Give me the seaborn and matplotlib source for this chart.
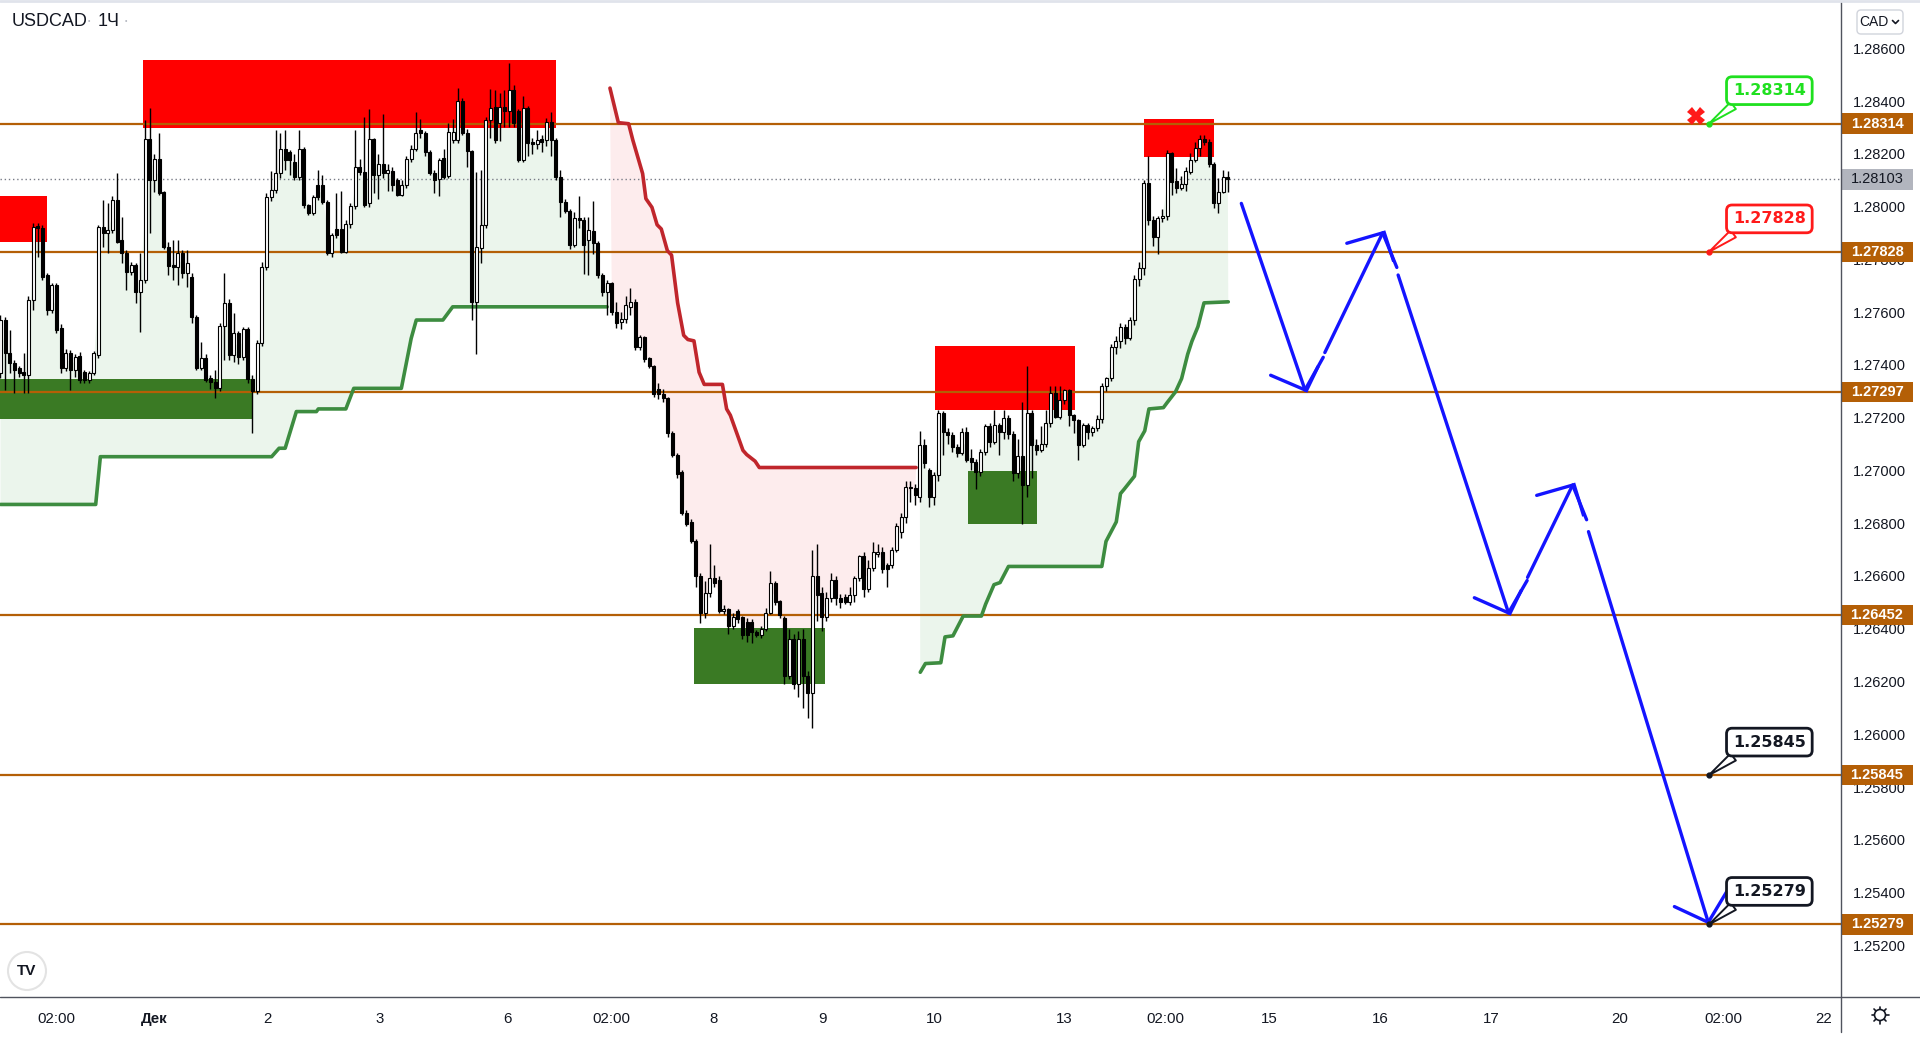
import numpy as np
import matplotlib
matplotlib.use("Agg")
import matplotlib.pyplot as plt
import seaborn as sns
import matplotlib.transforms as mtransforms
from matplotlib.patches import Rectangle, Circle, FancyBboxPatch
from matplotlib.lines import Line2D

# ---------------- data (hourly candles USDCAD) ----------------
opens = [
 1.27368,1.27570,1.27444,1.27406,1.27387,1.27374,1.27362,1.27646,1.27926,1.27917,1.27741,1.27608,
 1.27703,1.27538,1.27387,1.27446,1.27381,1.27434,1.27374,1.27343,1.27368,1.27437,1.27924,1.27901,
 1.27911,1.28025,1.27873,1.27823,1.27751,1.27778,1.27677,1.27722,1.28256,1.28100,1.28180,1.28056,
 1.27848,1.27778,1.27772,1.27823,1.27747,1.27734,1.27583,1.27387,1.27425,1.27349,1.27336,1.27311,
 1.27547,1.27633,1.27437,1.27520,1.27431,1.27535,1.27345,1.27300,1.27484,1.27772,1.28037,1.28063,
 1.28126,1.28220,1.28208,1.28170,1.28113,1.28220,1.28006,1.27974,1.28082,1.28082,1.28018,1.27823,
 1.27914,1.27914,1.27829,1.27933,1.28002,1.28151,1.28132,1.28012,1.28255,1.28119,1.28160,1.28126,
 1.28136,1.28100,1.28044,1.28082,1.28180,1.28218,1.28290,1.28277,1.28208,1.28128,1.28103,1.28183,
 1.28116,1.28252,1.28252,1.28400,1.28280,1.28210,1.27640,1.27842,1.27930,1.28328,1.28378,1.28315,
 1.28378,1.28362,1.28442,1.28362,1.28176,1.28372,1.28246,1.28239,1.28255,1.28252,1.28322,1.28252,
 1.28113,1.28016,1.27983,1.27854,1.27955,1.27949,1.27873,1.27909,1.27861,1.27741,1.27677,1.27709,
 1.27602,1.27561,1.27575,1.27620,1.27640,1.27468,1.27504,1.27425,1.27397,1.27307,1.27290,1.27274,
 1.27142,1.27060,1.26994,1.26838,1.26805,1.26731,1.26600,1.26460,1.26534,1.26591,1.26583,1.26468,
 1.26476,1.26411,1.26468,1.26443,1.26427,1.26427,1.26386,1.26378,1.26399,1.26460,1.26575,1.26504,
 1.26440,1.26222,1.26361,1.26189,1.26361,1.26222,1.26156,1.26600,1.26534,1.26443,1.26517,1.26583,
 1.26517,1.26522,1.26501,1.26526,1.26591,1.26674,1.26550,1.26632,1.26682,1.26690,1.26641,1.26641,
 1.26699,1.26768,1.26825,1.26939,1.26932,1.26901,1.27097,1.27002,1.26901,1.26983,1.27216,1.27147,
 1.27134,1.27090,1.27065,1.27147,1.27046,1.27033,1.26995,1.27071,1.27169,1.27109,1.27172,1.27147,
 1.27198,1.27137,1.26989,1.27055,1.26945,1.27216,1.27097,1.27078,1.27100,1.27179,1.27292,1.27204,
 1.27267,1.27305,1.27210,1.27191,1.27097,1.27172,1.27147,1.27160,1.27194,1.27320,1.27349,1.27467,
 1.27492,1.27542,1.27501,1.27570,1.27724,1.27766,1.28088,1.27949,1.27886,1.27955,1.27964,1.28202,
 1.28097,1.28069,1.28086,1.28132,1.28177,1.28223,1.28255,1.28246,1.28160,1.28015,1.28057,1.28111]
highs = [
 1.27590,1.27583,1.27532,1.27420,1.27395,1.27444,1.27660,1.27936,1.27936,1.27930,1.27747,1.27710,
 1.27709,1.27555,1.27460,1.27455,1.27440,1.27450,1.27380,1.27378,1.27452,1.27930,1.28025,1.28012,
 1.28040,1.28126,1.27962,1.27835,1.27790,1.27785,1.27823,1.28328,1.28372,1.28200,1.28277,1.28060,
 1.27867,1.27873,1.27873,1.27835,1.27835,1.27747,1.27590,1.27488,1.27440,1.27360,1.27381,1.27560,
 1.27747,1.27650,1.27595,1.27530,1.27545,1.27545,1.27362,1.27495,1.27790,1.28050,1.28136,1.28290,
 1.28280,1.28290,1.28215,1.28200,1.28290,1.28225,1.28010,1.28045,1.28140,1.28120,1.28025,1.27900,
 1.28050,1.28060,1.27950,1.28015,1.28290,1.28180,1.28340,1.28370,1.28260,1.28200,1.28350,1.28160,
 1.28150,1.28110,1.28100,1.28190,1.28235,1.28360,1.28330,1.28285,1.28215,1.28140,1.28185,1.28220,
 1.28315,1.28330,1.28450,1.28410,1.28295,1.28215,1.28130,1.28140,1.28340,1.28445,1.28440,1.28430,
 1.28440,1.28545,1.28460,1.28370,1.28420,1.28380,1.28260,1.28290,1.28270,1.28335,1.28360,1.28260,
 1.28140,1.28030,1.27990,1.27980,1.28040,1.27960,1.27960,1.28020,1.27870,1.27750,1.27720,1.27715,
 1.27640,1.27600,1.27660,1.27690,1.27650,1.27515,1.27510,1.27430,1.27400,1.27330,1.27310,1.27280,
 1.27150,1.27066,1.27000,1.26850,1.26815,1.26740,1.26610,1.26580,1.26720,1.26640,1.26600,1.26490,
 1.26480,1.26460,1.26475,1.26450,1.26440,1.26435,1.26395,1.26410,1.26480,1.26620,1.26580,1.26510,
 1.26450,1.26400,1.26380,1.26390,1.26400,1.26240,1.26700,1.26720,1.26560,1.26540,1.26610,1.26600,
 1.26530,1.26530,1.26560,1.26600,1.26680,1.26690,1.26660,1.26730,1.26720,1.26710,1.26650,1.26710,
 1.26800,1.26840,1.26960,1.26960,1.26950,1.27150,1.27120,1.27010,1.26995,1.27230,1.27225,1.27160,
 1.27145,1.27100,1.27160,1.27165,1.27080,1.27045,1.27080,1.27175,1.27180,1.27230,1.27180,1.27230,
 1.27210,1.27150,1.27120,1.27260,1.27397,1.27230,1.27120,1.27170,1.27230,1.27320,1.27320,1.27320,
 1.27310,1.27310,1.27215,1.27195,1.27180,1.27180,1.27170,1.27210,1.27330,1.27355,1.27480,1.27510,
 1.27560,1.27555,1.27580,1.27740,1.27790,1.28100,1.28190,1.27965,1.27965,1.27990,1.28215,1.28206,
 1.28145,1.28115,1.28150,1.28202,1.28245,1.28272,1.28270,1.28255,1.28170,1.28110,1.28140,1.28135]
lows = [
 1.27350,1.27305,1.27368,1.27292,1.27355,1.27292,1.27292,1.27608,1.27810,1.27722,1.27590,1.27595,
 1.27520,1.27370,1.27375,1.27305,1.27355,1.27330,1.27330,1.27330,1.27360,1.27425,1.27848,1.27823,
 1.27900,1.27861,1.27785,1.27684,1.27740,1.27633,1.27525,1.27710,1.27901,1.28056,1.28044,1.27840,
 1.27740,1.27722,1.27703,1.27728,1.27696,1.27560,1.27380,1.27381,1.27336,1.27310,1.27273,1.27300,
 1.27418,1.27420,1.27412,1.27405,1.27420,1.27330,1.27141,1.27290,1.27470,1.27760,1.28020,1.28050,
 1.28110,1.28140,1.28120,1.28100,1.28100,1.27995,1.27968,1.27968,1.28025,1.28010,1.27815,1.27810,
 1.27880,1.27823,1.27823,1.27920,1.27990,1.28120,1.28000,1.28000,1.28050,1.28030,1.28110,1.28060,
 1.28060,1.28040,1.28040,1.28070,1.28170,1.28210,1.28260,1.28190,1.28120,1.28050,1.28040,1.28105,
 1.28110,1.28240,1.28240,1.28270,1.28150,1.27570,1.27440,1.27785,1.27920,1.28260,1.28240,1.28250,
 1.28300,1.28300,1.28300,1.28170,1.28170,1.28190,1.28200,1.28220,1.28205,1.28230,1.28190,1.28100,
 1.27960,1.27975,1.27840,1.27845,1.27920,1.27745,1.27740,1.27820,1.27730,1.27660,1.27590,1.27590,
 1.27540,1.27537,1.27560,1.27590,1.27455,1.27455,1.27410,1.27390,1.27280,1.27270,1.27260,1.27125,
 1.27050,1.26970,1.26830,1.26790,1.26725,1.26560,1.26420,1.26440,1.26520,1.26560,1.26460,1.26455,
 1.26380,1.26400,1.26420,1.26360,1.26350,1.26345,1.26370,1.26365,1.26390,1.26455,1.26490,1.26440,
 1.26190,1.26210,1.26170,1.26140,1.26100,1.26060,1.26024,1.26430,1.26390,1.26430,1.26500,1.26490,
 1.26480,1.26495,1.26490,1.26500,1.26580,1.26520,1.26540,1.26620,1.26670,1.26610,1.26560,1.26630,
 1.26690,1.26745,1.26800,1.26880,1.26870,1.26880,1.27010,1.26860,1.26870,1.26960,1.27060,1.27100,
 1.27070,1.27050,1.27060,1.27030,1.27000,1.26930,1.26980,1.27060,1.27090,1.27100,1.27060,1.27120,
 1.27120,1.26960,1.26970,1.26797,1.26900,1.26970,1.27060,1.27070,1.27090,1.27165,1.27200,1.27195,
 1.27250,1.27170,1.27140,1.27040,1.27090,1.27120,1.27130,1.27150,1.27180,1.27300,1.27340,1.27440,
 1.27465,1.27480,1.27495,1.27550,1.27700,1.27740,1.27930,1.27850,1.27820,1.27940,1.27950,1.28044,
 1.28052,1.28062,1.28060,1.28125,1.28170,1.28190,1.28235,1.28150,1.27995,1.27975,1.28050,1.28055]
closes = [
 1.27570,1.27444,1.27406,1.27381,1.27368,1.27362,1.27646,1.27924,1.27917,1.27734,1.27608,1.27703,
 1.27532,1.27387,1.27444,1.27381,1.27431,1.27343,1.27343,1.27368,1.27444,1.27924,1.27901,1.27911,
 1.28025,1.27867,1.27823,1.27751,1.27778,1.27677,1.27722,1.28256,1.28100,1.28180,1.28050,1.27848,
 1.27775,1.27772,1.27823,1.27749,1.27785,1.27583,1.27387,1.27425,1.27343,1.27336,1.27311,1.27547,
 1.27633,1.27437,1.27520,1.27431,1.27535,1.27345,1.27300,1.27484,1.27772,1.28037,1.28063,1.28126,
 1.28220,1.28176,1.28176,1.28113,1.28220,1.28006,1.27974,1.28037,1.28037,1.28018,1.27823,1.27892,
 1.27892,1.27829,1.27933,1.28002,1.28151,1.28132,1.28006,1.28255,1.28119,1.28160,1.28126,1.28138,
 1.28082,1.28044,1.28082,1.28180,1.28218,1.28277,1.28277,1.28208,1.28128,1.28100,1.28178,1.28113,
 1.28284,1.28284,1.28400,1.28280,1.28210,1.27640,1.27848,1.27930,1.28328,1.28372,1.28252,1.28378,
 1.28362,1.28442,1.28315,1.28176,1.28372,1.28242,1.28239,1.28252,1.28246,1.28322,1.28252,1.28113,
 1.28016,1.27983,1.27854,1.27955,1.27949,1.27854,1.27911,1.27861,1.27741,1.27677,1.27709,1.27602,
 1.27557,1.27575,1.27627,1.27640,1.27468,1.27504,1.27422,1.27397,1.27290,1.27290,1.27274,1.27142,
 1.27060,1.26986,1.26838,1.26797,1.26731,1.26600,1.26460,1.26534,1.26591,1.26575,1.26468,1.26476,
 1.26411,1.26443,1.26435,1.26378,1.26378,1.26386,1.26378,1.26399,1.26460,1.26575,1.26501,1.26452,
 1.26222,1.26361,1.26189,1.26361,1.26222,1.26156,1.26600,1.26526,1.26443,1.26517,1.26583,1.26517,
 1.26501,1.26501,1.26526,1.26591,1.26674,1.26550,1.26632,1.26690,1.26690,1.26625,1.26625,1.26699,
 1.26789,1.26825,1.26939,1.26932,1.26907,1.27097,1.27027,1.26901,1.26983,1.27216,1.27145,1.27134,
 1.27090,1.27065,1.27147,1.27040,1.27033,1.26995,1.27071,1.27169,1.27109,1.27172,1.27147,1.27198,
 1.27137,1.26989,1.27055,1.26945,1.27216,1.27097,1.27078,1.27100,1.27179,1.27292,1.27204,1.27267,
 1.27305,1.27210,1.27191,1.27097,1.27172,1.27147,1.27160,1.27194,1.27320,1.27349,1.27467,1.27492,
 1.27542,1.27501,1.27570,1.27724,1.27766,1.28088,1.27949,1.27886,1.27955,1.27964,1.28202,1.28094,
 1.28069,1.28086,1.28135,1.28177,1.28223,1.28255,1.28246,1.28160,1.28015,1.28057,1.28111,1.28103]

# trailing-stop (supertrend) lines: vertices (bar, price)
green_stop1_x = [0, 20.4, 21.4, 58.1, 59.7, 61.0, 63.4, 67.7, 68.1, 74.0, 75.7, 85.9, 88.0, 89.1, 94.8, 96.9, 130.0]
green_stop1_y = [1.26871, 1.26871, 1.27052, 1.27052, 1.27084, 1.27084, 1.27223, 1.27223, 1.27233, 1.27233,
                 1.27311, 1.27311, 1.27500, 1.27570, 1.27570, 1.27620, 1.27620]
red_stop_x = [130.6, 132.4, 134.6, 135.5, 137.6, 138.3, 139.6, 140.7, 141.6, 142.9, 143.8, 145.1, 146.4,
              147.3, 148.6, 149.7, 150.8, 154.7, 155.6, 156.4, 159.1, 159.9, 161.7, 162.6, 196.2]
red_stop_y = [1.28449, 1.28318, 1.28314, 1.28252, 1.28125, 1.28030, 1.27997, 1.27931, 1.27915, 1.27833,
              1.27816, 1.27635, 1.27512, 1.27496, 1.27491, 1.27372, 1.27326, 1.27326, 1.27233, 1.27209,
              1.27076, 1.27060, 1.27035, 1.27011, 1.27011]
green_stop2_x = [197.1, 198.2, 201.5, 202.4, 204.1, 206.3, 210.2, 211.1, 212.9, 214.2, 216.0, 236.0, 236.9,
                 239.1, 240.0, 240.8, 243.0, 243.9, 245.2, 246.1, 249.2, 250.0, 251.8, 253.1, 254.4, 255.3,
                 256.6, 257.9, 263.1]
green_stop2_y = [1.26235, 1.26268, 1.26271, 1.26369, 1.26373, 1.26448, 1.26448, 1.26493, 1.26567, 1.26575,
                 1.26636, 1.26636, 1.26731, 1.26805, 1.26912, 1.26929, 1.26978, 1.27109, 1.27150, 1.27233,
                 1.27238, 1.27257, 1.27298, 1.27348, 1.27440, 1.27489, 1.27545, 1.27635, 1.27639]

# supply / demand zones: (bar_start, bar_end, price_low, price_high, kind)
zone_x0 = [-0.5, 30.5, -0.5, 148.6, 200.2, 207.4, 245.0]
zone_x1 = [10.0, 119.0, 54.2, 176.6, 230.2, 222.2, 260.0]
zone_lo = [1.27867, 1.28299, 1.27194, 1.26192, 1.27228, 1.26795, 1.28188]
zone_hi = [1.28040, 1.28555, 1.27345, 1.26402, 1.27473, 1.26998, 1.28332]
zone_kind = ["supply", "supply", "demand", "demand", "supply", "demand", "supply"]

# horizontal levels
levels = [1.28314, 1.27828, 1.27297, 1.26452, 1.25845, 1.25279]
last_price = 1.28103

# forecast path (blue arrows)
path_x = [265.9, 279.7, 296.4, 323.3, 337.1, 366.1]
path_y = [1.28012, 1.27297, 1.27908, 1.26452, 1.26952, 1.25279]

# callouts
callout_x = 366.1
callout_prices = [1.28314, 1.27828, 1.25845, 1.25279]
callout_labels = ["1.28314", "1.27828", "1.25845", "1.25279"]
callout_colors = ["#1fe01f", "#ff1a1a", "#131722", "#131722"]
cross_x, cross_y = 363.3, 1.28345

# axes ticks
y_ticks = [1.252, 1.254, 1.256, 1.258, 1.260, 1.262, 1.264, 1.266, 1.268, 1.270,
           1.272, 1.274, 1.276, 1.278, 1.280, 1.282, 1.284, 1.286]
x_ticks = [12, 33, 57.3, 81.3, 108.7, 130.8, 152.7, 176.2, 200, 227.9, 249.7, 271.8, 295.6, 319.4, 347, 369.1, 390.7]
x_labels = ["02:00", "Дек", "2", "3", "6", "02:00", "8", "9", "10", "13", "02:00", "15", "16", "17", "20", "02:00", "22"]

# ---------------- style ----------------
sns.set_theme(style="white")
plt.rcParams['font.family'] = ['Liberation Sans', 'DejaVu Sans']

W, H = 1920, 1044
fig = plt.figure(figsize=(W / 100, H / 100), dpi=100)
fig.patch.set_facecolor("white")
ax = fig.add_axes([0, 47 / H, 1841 / W, 995 / H])
ax.set_facecolor("white")
ax.set_xlim(-0.107, 394.4)
ax.set_ylim(1.250042, 1.287753)
for s in ax.spines.values():
    s.set_visible(False)

ORANGE = "#b45f06"
BLUE = "#1414ff"
k = np.arange(len(opens))
o, h, l, c = (np.array(a) for a in (opens, highs, lows, closes))
bm = (o + c) / 2

# fills between stop lines and body middle
GFILL, RFILL = "#ebf5ec", "#fdeced"
def poly(xs, ys, i0, i1, color):
    idx = np.arange(i1, i0 - 1, -1)
    px = np.r_[xs, k[idx]]
    py = np.r_[ys, bm[idx]]
    ax.fill(px, py, color=color, lw=0, zorder=1)
poly(green_stop1_x, green_stop1_y, 0, 130, GFILL)
poly(red_stop_x, red_stop_y, 131, 196, RFILL)
poly(green_stop2_x, green_stop2_y, 197, 263, GFILL)

# zones
for x0, x1, lo, hi, kind in zip(zone_x0, zone_x1, zone_lo, zone_hi, zone_kind):
    ax.add_patch(Rectangle((x0, lo), x1 - x0, hi - lo, lw=0,
                           fc="#ff0000" if kind == "supply" else "#3a7a24", zorder=2))

# levels
for p in levels:
    ax.axhline(p, color=ORANGE, lw=1.6, zorder=3)
ax.axhline(last_price, color="#787b86", lw=1.0, ls=(0, (1, 2)), zorder=3)

# stop lines
sns.lineplot(x=green_stop1_x, y=green_stop1_y, ax=ax, color="#3d8c40", lw=2.6, sort=False, estimator=None, zorder=4)
sns.lineplot(x=red_stop_x, y=red_stop_y, ax=ax, color="#c0262c", lw=2.6, sort=False, estimator=None, zorder=4)
sns.lineplot(x=green_stop2_x, y=green_stop2_y, ax=ax, color="#3d8c40", lw=2.6, sort=False, estimator=None, zorder=4)

# candles
up = c >= o
ax.vlines(k, l, h, color="black", lw=1.0, zorder=5)
body_lo = np.minimum(o, c)
body_h = np.maximum(np.abs(c - o), 0.000015)
ax.bar(k[up], body_h[up], bottom=body_lo[up], width=0.7, color="white", edgecolor="black", lw=0.8, zorder=6)
ax.bar(k[~up], body_h[~up], bottom=body_lo[~up], width=0.7, color="black", edgecolor="black", lw=0.8, zorder=6)

# forecast arrows with small breaks
head = dict(arrowstyle="->,head_length=0.9,head_width=1.0", color=BLUE, lw=2.4,
            shrinkA=0, shrinkB=0, mutation_scale=20)
gaps = [None, (0.16, 0.245), (0.08, 0.115), (0.19, 0.285), (0.075, 0.11)]
for i in range(len(path_x) - 1):
    x0, y0, x1, y1 = path_x[i], path_y[i], path_x[i + 1], path_y[i + 1]
    g = gaps[i]
    if g is None:
        xs, ys = x0, y0
    else:
        ax.plot([x0, x0 + (x1 - x0) * g[0]], [y0, y0 + (y1 - y0) * g[0]], color=BLUE, lw=2.4,
                solid_capstyle="butt", zorder=8)
        xs, ys = x0 + (x1 - x0) * g[1], y0 + (y1 - y0) * g[1]
    ax.annotate("", xy=(x1, y1), xytext=(xs, ys), arrowprops=head, zorder=8)

# callouts
for p, lab, col in zip(callout_prices, callout_labels, callout_colors):
    ax.annotate(lab, xy=(callout_x, p), xytext=(43.5, 23.8), textcoords="offset points",
                ha="center", va="center", fontsize=11.5, fontweight="bold", color=col,
                family="DejaVu Sans",
                bbox=dict(boxstyle="round,pad=0.4,rounding_size=0.35", fc="white", ec=col, lw=2),
                arrowprops=dict(arrowstyle="wedge,tail_width=0.55,shrink_factor=0.5", fc="white", ec=col,
                                lw=1.4, relpos=(0.14, 0.0), shrinkA=0, shrinkB=0),
                zorder=12)
    ax.plot([callout_x], [p], "o", ms=3.5, color=col, zorder=13)
ax.plot([cross_x], [cross_y], marker="X", ms=12.5, color="#ff1a1a", mew=0, zorder=12)

# right price axis
ax.yaxis.tick_right()
ax.set_yticks(y_ticks)
ax.set_yticklabels([f"{v:.5f}" for v in y_ticks])
ax.tick_params(axis="y", length=0, pad=8.6, labelsize=10.5, labelcolor="#131722")
ax.set_xticks(x_ticks)
ax.set_xticklabels(x_labels)
ax.tick_params(axis="x", length=0, pad=11, labelsize=10.8, labelcolor="#131722")
ax.get_xticklabels()[1].set_fontweight("bold")
ax.grid(False)

blend = mtransforms.blended_transform_factory(ax.transAxes, ax.transData)
hh = 10.3 / 26385
bw = 72 / 1841
for p in levels + [last_price]:
    is_last = p == last_price
    ax.add_patch(Rectangle((1.0, p - hh), bw, 2 * hh, transform=blend, clip_on=False,
                           fc="#b2b5be" if is_last else ORANGE, lw=0, zorder=20))
    ax.text(1.0 + bw / 2, p, f"{p:.5f}", transform=blend, ha="center", va="center",
            fontsize=10.5, fontweight="normal" if is_last else "bold",
            color="#131722" if is_last else "white", clip_on=False, zorder=21)

# frame lines
T = mtransforms.IdentityTransform()
fig.add_artist(Line2D([0, W], [H - 997, H - 997], transform=T, color="#50535e", lw=1))
fig.add_artist(Line2D([1841, 1841], [H - 1032, H - 2], transform=T, color="#50535e", lw=1))
fig.add_artist(Line2D([0, W], [H - 1, H - 1], transform=T, color="#e0e3eb", lw=2))

# title
fig.text(12, H - 22, "USDCAD", transform=T, fontsize=13, color="#131722", va="center", ha="left")
fig.text(89, H - 22, "•", transform=T, fontsize=5, color="#b2b5be", va="center", ha="center")
fig.text(98, H - 22, "1Ч", transform=T, fontsize=13, color="#131722", va="center", ha="left")
fig.text(126, H - 22, "•", transform=T, fontsize=5, color="#b2b5be", va="center", ha="center")

# currency selector
fig.add_artist(FancyBboxPatch((1857, H - 34), 46, 24, boxstyle="round,pad=0,rounding_size=4",
                              transform=T, fc="white", ec="#d1d4dc", lw=1))
fig.text(1874, H - 22, "CAD", transform=T, fontsize=10, color="#131722", va="center", ha="center")
fig.add_artist(Line2D([1892.5, 1895.5, 1898.5], [H - 20.5, H - 23.5, H - 20.5], transform=T,
                      color="#131722", lw=1.2))

# settings icon (outlined gear)
gx, gy = 1880, H - 1015
fig.add_artist(Circle((gx, gy), 5.5, transform=T, fc="white", ec="#131722", lw=1.2, zorder=5))
for ang in np.deg2rad([0, 45, 90, 135, 180, 225, 270, 315]):
    fig.add_artist(Line2D([gx + 5.5 * np.cos(ang), gx + 8.5 * np.cos(ang)],
                          [gy + 5.5 * np.sin(ang), gy + 8.5 * np.sin(ang)],
                          transform=T, color="#131722", lw=1.2))

# logo
fig.add_artist(Circle((27, H - 971), 19, transform=T, fc="white", ec="#e3e3e3", lw=1.5, zorder=30))
fig.text(27, H - 971, "TV", transform=T, fontsize=11, fontweight="bold", color="#131722",
         va="center", ha="center", zorder=31)

fig.savefig("out.png", dpi=100, facecolor="white")
